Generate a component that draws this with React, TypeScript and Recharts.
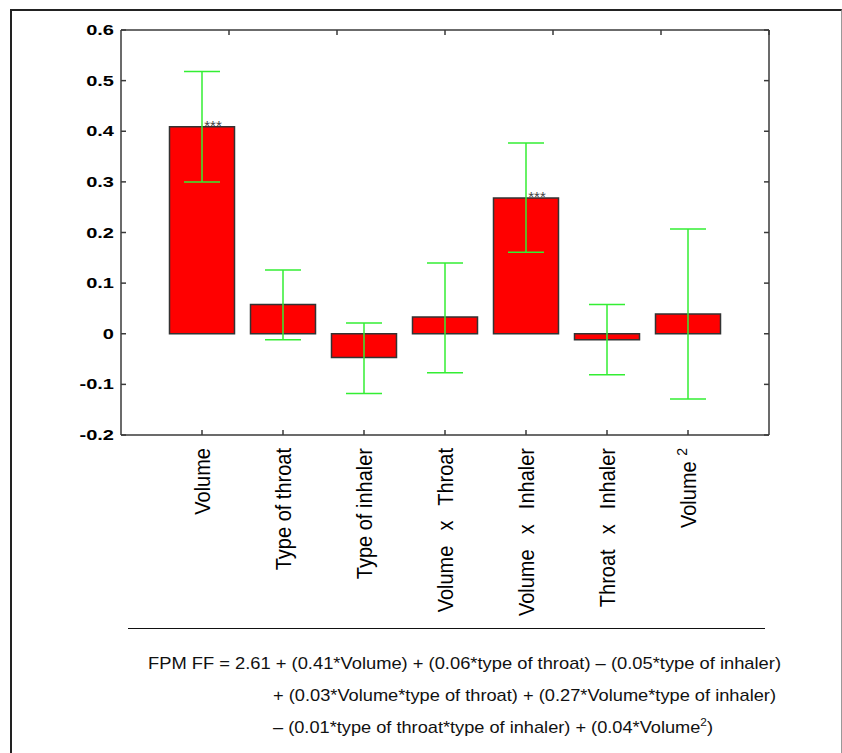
import React from 'react';
import { ComposedChart, Bar, XAxis, YAxis, ErrorBar, LabelList } from 'recharts';

const categories = ['Volume', 'Type of throat', 'Type of inhaler', 'Volume \u2009 x \u2009 Throat', 'Volume \u2009 x \u2009 Inhaler', 'Throat \u2009 x \u2009 Inhaler', 'Volume '];
const superscripts = ['', '', '', '', '', '', '2'];
const coefficients = [0.409, 0.058, -0.047, 0.033, 0.268, -0.012, 0.039];
const ciUpper = [0.518, 0.126, 0.021, 0.14, 0.377, 0.058, 0.207];
const ciLower = [0.3, -0.012, -0.118, -0.077, 0.161, -0.081, -0.129];
const significance = ['***', '', '', '', '***', '', ''];
const yTicks = [-0.2, -0.1, 0, 0.1, 0.2, 0.3, 0.4, 0.5, 0.6];
const formulaLine1 = 'FPM FF = 2.61 + (0.41*Volume) + (0.06*type of throat) \u2013 (0.05*type of inhaler)';
const formulaLine2 = '+ (0.03*Volume*type of throat) + (0.27*Volume*type of inhaler)';
const formulaLine3a = '\u2013 (0.01*type of throat*type of inhaler) + (0.04*Volume';
const formulaLine3sup = '2';
const formulaLine3b = ')';

const xTicks = categories.map((_, i) => i + 1);
const data = categories.map((c, i) => ({
  pos: i + 1,
  value: coefficients[i],
  err: [coefficients[i] - ciLower[i], ciUpper[i] - coefficients[i]],
  sig: significance[i],
}));

const FONT = "'Liberation Sans', Arial, Helvetica, sans-serif";
const AXIS = '#3a3a3a';
const TICK_LEN = 5;

const TopTick = (props: any) => (
  <line x1={props.x} y1={props.y} x2={props.x} y2={props.y + TICK_LEN} stroke={AXIS} strokeWidth={1.5} />
);

const RightTick = (props: any) => (
  <line x1={props.x} y1={props.y} x2={props.x - TICK_LEN} y2={props.y} stroke={AXIS} strokeWidth={1.5} />
);

const LEFT_MARGIN = 7;
const LeftTick = (props: any) => {
  const { x, y, payload } = props;
  const ax = x + LEFT_MARGIN;
  return (
    <g>
      <line x1={ax} y1={y} x2={ax + TICK_LEN} y2={y} stroke={AXIS} strokeWidth={1.5} />
      <text
        transform={`translate(${x}, ${y}) scale(1.38, 1)`}
        x={0}
        y={0}
        dy={5}
        textAnchor="end"
        fontFamily={FONT}
        fontSize={14.5}
        fontWeight="bold"
        fill="#000"
      >
        {String(payload.value)}
      </text>
    </g>
  );
};

const CategoryTick = (props: any) => {
  const { x, y, payload } = props;
  const idx = Math.round(payload.value) - 1;
  const label = categories[idx] ?? '';
  const sup = superscripts[idx] ?? '';
  const bx = x + 7.5;
  const ty = y + 13;
  return (
    <g>
      <line x1={x} y1={y} x2={x} y2={y - TICK_LEN} stroke={AXIS} strokeWidth={1.5} />
      <text
        transform={`translate(${bx}, ${ty}) scale(1.1, 1) rotate(-90)`}
        x={0}
        y={0}
        textAnchor="end"
        fontFamily={FONT}
        fontSize={20}
        fill="#000"
        style={{ whiteSpace: 'pre' }}
      >
        {label}
        {sup ? (
          <tspan fontSize={14} dy={-8}>
            {sup}
          </tspan>
        ) : null}
      </text>
    </g>
  );
};

const SigLabel = (p: any) => {
  if (!p.value) return null;
  return (
    <text
      x={p.x + p.width / 2 + 11}
      y={p.y + 4}
      textAnchor="middle"
      fontFamily={FONT}
      fontSize={15}
      fill="#444"
    >
      {p.value}
    </text>
  );
};

export default function App() {
  return (
    <div style={{ position: 'absolute', left: 0, top: 0, width: 842, height: 753, background: '#fff', overflow: 'hidden' }}>
      <div
        style={{
          position: 'absolute',
          left: 10,
          top: 9,
          width: 832,
          height: 800,
          boxSizing: 'border-box',
          borderTop: '2px solid #222',
          borderLeft: '2px solid #222',
          borderRight: '1px solid #999',
        }}
      />
      <div style={{ position: 'absolute', left: 0, top: 0 }}>
        <ComposedChart
          width={842}
          height={753}
          data={data}
          margin={{ top: 29, right: 72, left: 71, bottom: 118 }}
        >
          <XAxis
            xAxisId="b"
            type="number"
            dataKey="pos"
            domain={[0, 8]}
            ticks={xTicks}
            interval={0}
            orientation="bottom"
            height={200}
            tick={CategoryTick}
            tickSize={0}
            tickMargin={0}
            tickLine={false}
            axisLine={{ stroke: AXIS, strokeWidth: 1.5 }}
            allowDataOverflow
          />
          <XAxis
            xAxisId="t"
            type="number"
            domain={[0, 8]}
            ticks={xTicks}
            interval={0}
            orientation="top"
            height={1}
            tick={TopTick}
            tickSize={0}
            tickMargin={0}
            tickLine={false}
            axisLine={{ stroke: AXIS, strokeWidth: 1.5 }}
            allowDataOverflow
          />
          <YAxis
            yAxisId="l"
            type="number"
            domain={[-0.2, 0.6]}
            ticks={yTicks}
            interval={0}
            width={50}
            tickSize={0}
            tickMargin={LEFT_MARGIN}
            tickLine={false}
            tick={LeftTick}
            axisLine={{ stroke: AXIS, strokeWidth: 1.5 }}
            allowDataOverflow
          />
          <YAxis
            yAxisId="r"
            type="number"
            orientation="right"
            domain={[-0.2, 0.6]}
            ticks={yTicks}
            interval={0}
            width={1}
            tickSize={0}
            tickMargin={0}
            tickLine={false}
            tick={RightTick}
            axisLine={{ stroke: AXIS, strokeWidth: 1.5 }}
            allowDataOverflow
          />
          <Bar
            xAxisId="b"
            yAxisId="l"
            dataKey="value"
            barSize={65}
            fill="#ff0000"
            stroke="#333"
            strokeWidth={1.5}
            isAnimationActive={false}
          >
            <ErrorBar dataKey="err" width={18} stroke="#33ee33" strokeWidth={1.5} direction="y" isAnimationActive={false} />
            <LabelList dataKey="sig" content={SigLabel} />
          </Bar>
        </ComposedChart>
      </div>
      <svg width={842} height={753} style={{ position: 'absolute', left: 0, top: 0, pointerEvents: 'none' }}>
        <line x1={128} y1={628.5} x2={765} y2={628.5} stroke="#111" strokeWidth={1.2} />
        <g fontFamily={FONT} fontSize={17} fill="#111">
          <text x={148} y={669} textLength={633} lengthAdjust="spacingAndGlyphs">{formulaLine1}</text>
          <text x={273} y={701} textLength={503} lengthAdjust="spacingAndGlyphs">{formulaLine2}</text>
          <text x={273} y={733} textLength={440} lengthAdjust="spacingAndGlyphs">
            {formulaLine3a}
            <tspan fontSize={11} dy={-7}>{formulaLine3sup}</tspan>
            <tspan dy={7}>{formulaLine3b}</tspan>
          </text>
        </g>
      </svg>
    </div>
  );
}
